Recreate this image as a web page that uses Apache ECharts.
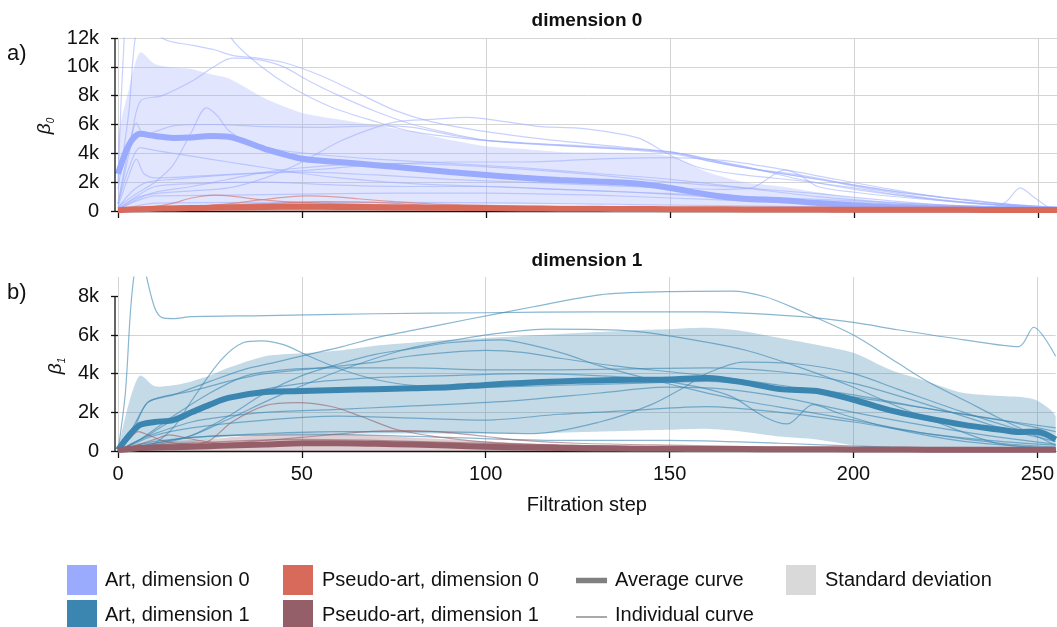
<!DOCTYPE html>
<html>
<head>
<meta charset="utf-8">
<script src="https://cdn.jsdelivr.net/npm/echarts@6/dist/echarts.min.js"></script>
<style>
  html, body { margin: 0; padding: 0; background: #fff; }
  #chart { width: 1057px; height: 627px; }
</style>
</head>
<body>
<div id="chart"></div>
<script>
// Filtration steps shared by the average curves and the deviation bands
const steps = [0,3,6,10,15,20,25,30,40,50,60,70,80,90,100,110,120,130,140,150,160,170,180,190,200,210,220,230,240,245,250,255];

// Betti curves, dimension 0 (values in thousands)
const artMean0   = [2.57,4.6,5.35,5.2,5.07,5.1,5.2,5.15,4.3,3.62,3.4,3.18,2.95,2.7,2.5,2.3,2.15,2.05,1.92,1.6,1.15,0.85,0.75,0.55,0.38,0.28,0.2,0.16,0.13,0.14,0.1,0.08];
const artUpper0  = [5.0,8.5,11.0,10.2,9.95,9.85,9.5,9.2,7.8,6.8,6.35,5.95,5.5,4.95,4.5,4.3,4.1,4.05,4.0,3.8,2.7,2.0,1.7,1.3,0.9,0.6,0.42,0.3,0.25,0.35,0.2,0.1];
const artLower0  = [0,0,0,0,0.15,0.3,0.4,0.45,0.45,0.42,0.4,0.4,0.4,0.42,0.45,0.45,0.45,0.4,0.35,0.3,0.2,0.12,0.06,0.03,0.02,0.01,0,0,0,0,0,0];
const pseudoMean0  = [0.05,0.1,0.12,0.15,0.18,0.2,0.22,0.25,0.28,0.3,0.28,0.26,0.24,0.22,0.2,0.18,0.16,0.15,0.14,0.13,0.12,0.11,0.1,0.1,0.09,0.09,0.08,0.08,0.07,0.07,0.07,0.07];
const pseudoUpper0 = [0.1,0.2,0.25,0.3,0.35,0.4,0.45,0.5,0.55,0.55,0.5,0.45,0.4,0.36,0.32,0.3,0.27,0.25,0.23,0.21,0.2,0.18,0.17,0.16,0.15,0.14,0.13,0.12,0.12,0.12,0.11,0.11];
const pseudoLower0 = [0,0,0,0,0,0,0,0,0,0,0,0,0,0,0,0,0,0,0,0,0,0,0,0,0,0,0,0,0,0,0,0];

// Betti curves, dimension 1 (values in thousands)
const artMean1   = [0.05,0.8,1.35,1.5,1.6,2.0,2.4,2.75,3.05,3.1,3.15,3.2,3.25,3.3,3.42,3.52,3.6,3.65,3.68,3.7,3.78,3.55,3.2,3.1,2.65,2.1,1.7,1.35,1.1,0.98,1.0,0.6];
const artUpper1  = [0.1,2.5,3.9,3.35,3.4,3.6,3.9,4.3,4.9,5.05,5.2,5.45,5.6,5.75,5.85,5.95,6.05,6.15,6.25,6.3,6.37,6.2,5.85,5.5,5.08,4.2,3.6,3.0,2.85,2.8,2.6,1.8];
const artLower1  = [0,0,0,0,0.1,0.4,0.6,0.75,0.85,0.9,0.9,0.9,0.9,0.88,0.9,0.9,0.95,1.0,1.05,1.1,1.15,1.0,0.75,0.6,0.3,0.05,0,0,0,0,0,0];
const pseudoMean1  = [0.05,0.1,0.15,0.18,0.2,0.22,0.25,0.28,0.33,0.4,0.4,0.37,0.33,0.28,0.22,0.18,0.15,0.13,0.12,0.11,0.1,0.1,0.09,0.09,0.08,0.08,0.07,0.07,0.07,0.07,0.07,0.07];
const pseudoUpper1 = [0.1,0.3,0.4,0.45,0.5,0.55,0.6,0.7,0.85,0.95,0.9,0.8,0.7,0.6,0.5,0.4,0.35,0.3,0.27,0.25,0.22,0.2,0.2,0.18,0.17,0.16,0.15,0.15,0.14,0.14,0.14,0.14];
const pseudoLower1 = [0,0,0,0,0,0,0,0,0,0,0,0,0,0,0,0,0,0,0,0,0,0,0,0,0,0,0,0,0,0,0,0];

// Individual art curves, dimension 0: [step, value]
const artCurves0 = [
  [[0,2.0],[1.5,11],[3,15],[7,14],[12,12.0],[20,11.5],[26,11.2],[31,10.8],[38,10.6],[45,10.3],[55,9.4],[65,8.2],[75,7.0],[85,6.2],[100,5.5],[115,5.0],[130,4.6],[150,4.1],[160,3.6],[170,3.1],[185,2.2],[200,1.5],[215,1.0],[230,0.6],[245,0.35],[255,0.2]],
  [[0,1.5],[3,7.0],[5,12.5],[10,16],[20,17],[28,14],[31,11.9],[39,10.0],[47,8.6],[58,7.2],[70,6.2],[80,5.5],[95,5.0],[110,4.7],[130,4.4],[150,4.1],[160,3.5],[175,2.8],[190,2.2],[205,1.5],[220,0.9],[240,0.4],[255,0.2]],
  [[0,0.5],[3,4.0],[6,7.6],[12,8.0],[20,9.0],[26,10.0],[31,10.6],[38,10.5],[45,10.0],[52,9.0],[60,8.0],[70,6.9],[80,6.0],[90,5.4],[100,4.9],[115,4.6],[130,4.4],[150,4.0],[160,3.5],[170,3.0],[185,2.5],[200,1.8],[215,1.2],[230,0.8],[245,0.4],[255,0.25]],
  [[0,0.3],[5,1.2],[10,2.0],[15,3.2],[20,5.5],[24,7.15],[27,6.6],[30,5.6],[35,4.8],[42,4.3],[55,3.9],[70,3.6],[90,3.3],[110,3.0],[130,2.6],[150,2.2],[170,1.6],[190,1.0],[210,0.6],[230,0.35],[255,0.15]],
  [[0,0.5],[3,4.5],[5,6.1],[7,5.3],[10,5.5],[15,5.9],[25,6.0],[40,5.85],[55,5.8],[70,5.9],[80,5.8],[90,5.3],[100,4.9],[120,4.6],[140,4.3],[155,3.9],[165,3.3],[180,2.6],[195,2.0],[210,1.4],[225,0.9],[240,0.5],[255,0.25]],
  [[0,0.2],[5,0.9],[10,1.2],[20,1.4],[30,1.6],[40,2.3],[50,3.4],[60,4.8],[70,5.8],[76,6.2],[85,6.35],[95,6.5],[105,6.2],[115,5.85],[125,5.75],[135,5.4],[142,5.0],[149,4.0],[158,3.0],[170,2.5],[185,2.1],[200,1.6],[215,1.0],[235,0.45],[255,0.2]],
  [[0,0.3],[3,2.5],[5,3.6],[7,2.6],[10,2.3],[20,2.4],[35,2.6],[50,2.7],[70,2.5],[90,2.2],[110,2.0],[130,1.8],[150,1.6],[165,1.5],[172,1.6],[178,2.5],[181,2.85],[185,2.5],[190,1.7],[200,1.3],[215,0.9],[235,0.5],[255,0.2]],
  [[0,0.5],[3,3.0],[6,4.4],[10,4.2],[20,3.8],[30,3.4],[40,3.0],[50,2.6],[60,2.3],[80,1.9],[100,1.7],[120,1.5],[140,1.3],[160,1.1],[180,0.9],[200,0.7],[220,0.45],[240,0.28],[255,0.15]],
  [[0,0.2],[4,1.4],[8,2.0],[15,2.2],[30,2.5],[50,2.8],[70,3.2],[90,3.4],[110,3.4],[130,3.6],[150,3.7],[165,3.5],[180,2.9],[195,2.2],[210,1.5],[225,0.9],[240,0.5],[255,0.25]],
  [[0,0.1],[5,1.0],[10,1.7],[20,1.9],[40,2.0],[60,1.8],[80,1.7],[100,1.7],[120,1.5],[140,1.3],[160,1.0],[180,0.8],[200,0.6],[220,0.38],[240,0.22],[255,0.12]],
  [[0,0.1],[5,0.7],[10,1.05],[30,1.1],[60,1.2],[90,1.25],[110,1.2],[130,1.1],[150,0.9],[170,0.7],[190,0.5],[210,0.35],[230,0.22],[255,0.1]],
  [[0,0.05],[5,0.35],[10,0.55],[40,0.6],[80,0.6],[110,0.55],[140,0.45],[170,0.35],[200,0.25],[230,0.17],[255,0.1]],
  [[0,0.1],[5,0.8],[10,1.3],[20,1.7],[30,2.2],[40,2.7],[50,3.0],[70,3.3],[90,3.2],[110,2.9],[130,2.5],[150,2.0],[170,1.6],[190,1.2],[210,0.7],[225,0.4],[236,0.25],[241,0.6],[245,1.6],[249,0.9],[253,0.2],[255,0.1]]
];

// Individual pseudo-art curves, dimension 0
const pseudoCurves0 = [
  [[0,0],[5,0.15],[10,0.3],[15,0.55],[20,0.9],[26,1.1],[32,1.0],[38,0.8],[45,0.65],[55,0.55],[70,0.45],[90,0.35],[120,0.25],[160,0.15],[200,0.1],[255,0.05]],
  [[0,0],[10,0.2],[20,0.3],[30,0.5],[38,0.75],[45,0.95],[52,1.05],[58,1.0],[65,0.85],[75,0.65],[85,0.5],[100,0.4],[130,0.25],[170,0.15],[210,0.1],[255,0.05]],
  [[0,0],[10,0.25],[25,0.35],[40,0.5],[55,0.65],[70,0.6],[82,0.42],[100,0.33],[130,0.25],[170,0.15],[220,0.08],[255,0.05]],
  [[0,0],[8,0.3],[20,0.35],[35,0.4],[50,0.45],[70,0.35],[100,0.25],[150,0.15],[200,0.1],[255,0.05]]
];

// Individual art curves, dimension 1
const artCurves1 = [
  [[0,0],[2,3.0],[3.5,7.5],[5,9.8],[6.5,10.0],[8,8.8],[10,7.4],[12,6.9],[15,6.85],[20,6.95],[40,7.0],[70,7.1],[100,7.15],[130,7.2],[160,7.2],[185,6.96],[200,6.65],[212,6.27],[230,5.75],[245,5.4],[249,6.4],[255,4.9]],
  [[0,0],[8,0.2],[15,1.2],[20,2.6],[28,4.7],[34,5.6],[39,5.7],[45,5.5],[52,4.9],[61,4.2],[70,3.7],[80,3.4],[100,3.3],[120,3.4],[140,3.5],[160,3.6],[180,3.3],[200,2.8],[220,2.2],[240,1.6],[255,1.2]],
  [[0,0],[4,1.0],[8,2.5],[15,2.9],[25,3.6],[34,4.2],[43,4.6],[52,5.0],[61,5.4],[70,5.85],[79,6.2],[95,6.8],[113,7.46],[131,8.08],[149,8.24],[167,8.27],[176,7.98],[185,7.3],[200,6.0],[212,4.56],[221,3.5],[230,2.64],[239,1.76],[248,0.93],[255,0.3]],
  [[0,0],[10,0.4],[20,0.8],[29.5,1.6],[43,2.8],[61,4.2],[79,5.3],[90,5.7],[104,6.1],[117,6.3],[140,6.2],[158,5.7],[171,5.2],[185,4.35],[200,3.3],[212,2.3],[226,1.25],[239,0.4],[255,0.1]],
  [[0,0],[10,0.3],[20,0.8],[30,1.8],[40,3.0],[50,3.9],[60,4.5],[70,5.0],[80,5.3],[90,5.6],[104,5.75],[112,5.5],[122,5.0],[131,4.4],[145,3.7],[158,3.1],[170,2.6],[185,2.1],[200,1.6],[220,0.9],[240,0.4],[255,0.2]],
  [[0,0],[10,0.4],[20,0.7],[40,0.9],[60,1.0],[85,1.0],[113,0.9],[131,1.5],[145,2.4],[154,3.3],[160,4.0],[170,4.6],[185,4.5],[200,4.0],[212,3.2],[230,2.0],[245,1.1],[255,0.6]],
  [[0,0],[6,0.6],[15,1.8],[25,3.0],[35,3.9],[45,4.2],[60,4.3],[80,4.3],[100,4.2],[120,4.2],[140,4.25],[160,4.3],[180,4.1],[200,3.5],[220,2.4],[240,1.2],[255,0.5]],
  [[0,0],[8,0.8],[15,1.6],[25,2.4],[35,3.0],[50,3.5],[70,3.8],[90,3.9],[110,4.0],[130,3.9],[145,3.7],[158,3.3],[167,2.8],[176,1.75],[182,1.4],[189,2.4],[196,1.95],[210,1.2],[230,0.5],[250,0.2],[255,0.15]],
  [[0,0],[5,0.5],[10,0.9],[20,1.5],[30,1.8],[40,2.0],[60,2.15],[76,2.3],[104,2.55],[131,3.0],[149,3.3],[165,3.2],[180,2.8],[200,2.0],[220,1.3],[240,0.7],[255,0.35]],
  [[0,0],[10,0.5],[30,0.8],[60,0.85],[90,0.7],[120,0.55],[150,0.55],[180,0.4],[210,0.2],[255,0.05]],
  [[0,0],[4,1.2],[8,2.5],[12,2.8],[20,3.1],[30,3.6],[40,4.0],[55,4.3],[70,4.6],[79,4.9],[90,5.1],[100,5.2],[110,5.1],[120,4.8],[135,4.4],[150,4.1],[165,3.8],[180,3.4],[200,2.9],[220,2.2],[240,1.6],[255,1.0]],
  [[0,0],[10,0.8],[20,1.2],[40,1.6],[60,1.8],[80,1.7],[100,1.6],[120,1.9],[140,2.1],[160,2.3],[180,2.0],[200,1.5],[220,0.9],[240,0.5],[255,0.3]]
];

// Individual pseudo-art curves, dimension 1
const pseudoCurves1 = [
  [[0,0],[10,0.25],[20,0.3],[25,0.55],[31,1.5],[40,2.35],[49,2.5],[58,2.3],[66,1.8],[76,1.1],[90,0.65],[103,0.42],[120,0.3],[150,0.2],[200,0.12],[255,0.08]],
  [[0,0],[3,0.6],[5.5,1.0],[8,0.85],[12,0.55],[16,0.4],[30,0.35],[60,0.4],[100,0.3],[150,0.2],[200,0.12],[255,0.08]],
  [[0,0],[5,0.3],[10,0.6],[14,0.83],[18,0.7],[25,0.45],[35,0.35],[60,0.4],[90,0.35],[130,0.22],[180,0.12],[255,0.08]],
  [[0,0],[10,0.2],[30,0.4],[50,0.7],[66,0.98],[79,1.05],[90,0.95],[100,0.75],[110,0.55],[125,0.4],[150,0.3],[200,0.15],[255,0.08]],
  [[0,0],[10,0.3],[30,0.5],[50,0.6],[70,0.55],[90,0.45],[120,0.3],[160,0.2],[255,0.08]]
];

const yTicks0 = [0, 2, 4, 6, 8, 10, 12];
const yTicks1 = [0, 2, 4, 6, 8];
const xTicks = [0, 50, 100, 150, 200, 250];

const COLORS = {
  art0: '#9aabfd',
  art1: '#3b85b1',
  pseudo0: '#d86a5c',
  pseudo1: '#955f69'
};
const FONT = "'Liberation Sans', Arial, Helvetica, sans-serif";

const zip = (xs, ys) => xs.map((x, i) => [x, ys[i]]);

// shaded region between the lower and upper edge of a deviation band
function bandSeries(panel, lower, upper, color, opacity) {
  return {
    type: 'custom', xAxisIndex: panel, yAxisIndex: panel, silent: true, animation: false,
    data: steps.map((s, i) => [s, lower[i], upper[i]]),
    encode: { x: 0, y: [1, 2] },
    renderItem: function (params, api) {
      if (params.dataIndex !== 0) return null;
      const top = steps.map((s, i) => api.coord([s, upper[i]]));
      const bottom = steps.map((s, i) => api.coord([s, lower[i]])).reverse();
      const cs = params.coordSys;
      return {
        type: 'polygon',
        shape: { points: top.concat(bottom), smooth: 0.25 },
        style: { fill: color, opacity: opacity },
        clipPath: { type: 'rect', shape: { x: cs.x, y: cs.y, width: cs.width, height: cs.height } }
      };
    }
  };
}

function curveSeries(panel, data, color, width, opacity) {
  return {
    type: 'line', xAxisIndex: panel, yAxisIndex: panel, data: data,
    symbol: 'none', smooth: 0.3, silent: true, animation: false,
    lineStyle: { color: color, width: width, opacity: opacity }
  };
}

const series = [
  // panel a) dimension 0
  bandSeries(0, artLower0, artUpper0, COLORS.art0, 0.3),
  bandSeries(0, pseudoLower0, pseudoUpper0, COLORS.pseudo0, 0.35),
  ...artCurves0.map(c => curveSeries(0, c, COLORS.art0, 1.2, 0.55)),
  ...pseudoCurves0.map(c => curveSeries(0, c, COLORS.pseudo0, 1.2, 0.6)),
  curveSeries(0, zip(steps, artMean0), COLORS.art0, 6, 1),
  curveSeries(0, zip(steps, pseudoMean0), COLORS.pseudo0, 6, 1),
  // panel b) dimension 1
  bandSeries(1, artLower1, artUpper1, COLORS.art1, 0.3),
  bandSeries(1, pseudoLower1, pseudoUpper1, COLORS.pseudo1, 0.3),
  ...artCurves1.map(c => curveSeries(1, c, COLORS.art1, 1.2, 0.6)),
  ...pseudoCurves1.map(c => curveSeries(1, c, COLORS.pseudo1, 1.2, 0.6)),
  curveSeries(1, zip(steps, artMean1), COLORS.art1, 6, 1),
  curveSeries(1, zip(steps, pseudoMean1), COLORS.pseudo1, 6, 1)
];

const kFormat = v => (v === 0 ? '0' : v + 'k');
const GRID_COLOR = '#d4d4d4';

function xAxisCfg(panel, showLabels) {
  return {
    type: 'value', gridIndex: panel, min: 0, max: 255, interval: 50, offset: 2,
    axisLine: { show: true, lineStyle: { color: '#111', width: 1.3 } },
    axisTick: { show: true, length: 7, customValues: xTicks, lineStyle: { color: '#111', width: 1.3 } },
    axisLabel: {
      show: showLabels, customValues: xTicks,
      fontSize: 20, color: '#111', fontFamily: FONT, margin: 11
    },
    splitLine: { show: true, lineStyle: { color: GRID_COLOR, width: 1 } },
    name: showLabels ? 'Filtration step' : '',
    nameLocation: 'middle', nameGap: 42,
    nameTextStyle: { fontSize: 20, color: '#111', fontFamily: FONT }
  };
}

function yAxisCfg(panel, max, ticks) {
  const trimmed = ticks[ticks.length - 1] !== max;
  return {
    type: 'value', gridIndex: panel, min: 0, max: max, interval: 2, offset: 3,
    axisLine: { show: false },
    axisTick: { show: true, length: 7, customValues: ticks, lineStyle: { color: '#111', width: 1.3 } },
    axisLabel: {
      customValues: ticks,
      formatter: kFormat, fontSize: 20, color: '#111', fontFamily: FONT, margin: 16
    },
    splitLine: { show: true, showMaxLine: !trimmed, lineStyle: { color: GRID_COLOR, width: 1 } }
  };
}

// legend entries drawn as plain graphics below the panels
function legendItems() {
  const txt = (x, y, text) => ({
    type: 'text', x: x, y: y, silent: true,
    style: { text: text, fontSize: 20, fontFamily: FONT, fill: '#111', verticalAlign: 'middle', align: 'left' }
  });
  const sq = (x, y, color) => ({
    type: 'rect', silent: true, shape: { x: x, y: y, width: 30, height: 30 }, style: { fill: color }
  });
  const ln = (y, w, color) => ({
    type: 'line', silent: true, shape: { x1: 576, y1: y, x2: 607, y2: y },
    style: { stroke: color, lineWidth: w }
  });
  return [
    sq(67, 565, COLORS.art0), txt(105, 580.5, 'Art, dimension 0'),
    sq(67, 600, COLORS.art1), txt(105, 615.5, 'Art, dimension 1'),
    sq(283, 565, COLORS.pseudo0), txt(322, 580.5, 'Pseudo-art, dimension 0'),
    sq(283, 600, COLORS.pseudo1), txt(322, 615.5, 'Pseudo-art, dimension 1'),
    ln(580.5, 5.5, '#808080'), txt(615, 580.5, 'Average curve'),
    ln(617, 1.5, '#8c8c8c'), txt(615, 615.5, 'Individual curve'),
    sq(786, 565, '#d9d9d9'), txt(825, 580.5, 'Standard deviation')
  ];
}

function panelTexts() {
  const title = (y, text) => ({
    type: 'text', x: 587, y: y, silent: true,
    style: { text: text, fontSize: 19, fontWeight: 'bold', fontFamily: FONT, fill: '#111', align: 'center', verticalAlign: 'middle' }
  });
  const tag = (y, text) => ({
    type: 'text', x: 7, y: y, silent: true,
    style: { text: text, fontSize: 22, fontFamily: FONT, fill: '#111', align: 'left', verticalAlign: 'middle' }
  });
  const beta = (x, y, sub) => ({
    type: 'text', x: x, y: y, rotation: Math.PI / 2, silent: true,
    style: {
      text: '{b|β}{s|' + sub + '}', align: 'center', verticalAlign: 'middle',
      rich: {
        b: { fontSize: 19, fontStyle: 'italic', fontFamily: FONT, fill: '#111', lineHeight: 22 },
        s: { fontSize: 10, fontStyle: 'italic', fontFamily: FONT, fill: '#111', verticalAlign: 'bottom', lineHeight: 22 }
      }
    }
  });
  return [
    title(21, 'dimension 0'), title(261, 'dimension 1'),
    tag(54, 'a)'), tag(293, 'b)'),
    beta(45, 126, '0'), beta(56, 366, '1')
  ];
}

const chart = echarts.init(document.getElementById('chart'), null, { renderer: 'canvas' });
chart.setOption({
  backgroundColor: '#fff',
  animation: false,
  textStyle: { fontFamily: FONT },
  grid: [
    { left: 118, top: 38, width: 940, height: 173 },
    { left: 118, top: 277, width: 940, height: 174 }
  ],
  xAxis: [xAxisCfg(0, false), xAxisCfg(1, true)],
  yAxis: [yAxisCfg(0, 12, yTicks0), yAxisCfg(1, 9, yTicks1)],
  series: series,
  graphic: panelTexts().concat(legendItems())
});

// y spines, trimmed to the labelled tick range
function spine(panel, top) {
  const p0 = chart.convertToPixel({ gridIndex: panel }, [0, 0]);
  const p1 = chart.convertToPixel({ gridIndex: panel }, [0, top]);
  const x = p0[0] - 3;
  return {
    type: 'line', silent: true, z: 10,
    shape: { x1: x, y1: p1[1], x2: x, y2: p0[1] },
    style: { stroke: '#111', lineWidth: 1.3 }
  };
}
chart.setOption({
  graphic: panelTexts().concat(legendItems(), [spine(0, yTicks0[yTicks0.length - 1]), spine(1, yTicks1[yTicks1.length - 1])])
});
</script>
</body>
</html>
